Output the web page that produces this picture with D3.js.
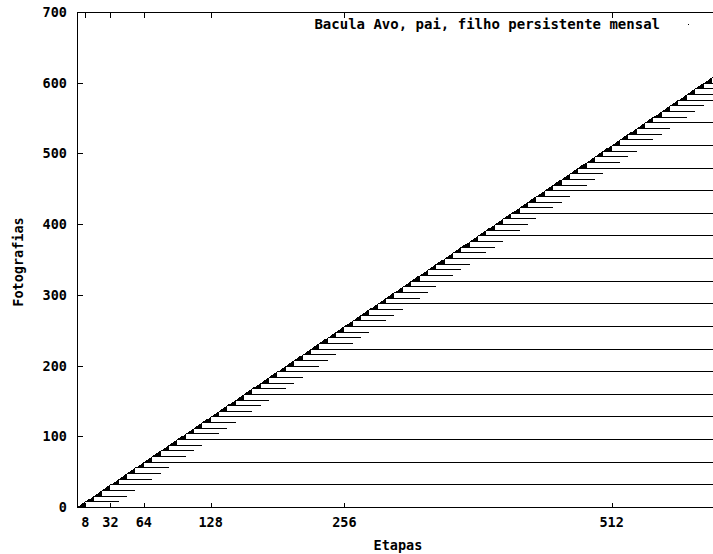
<!DOCTYPE html>
<html>
<head>
<meta charset="utf-8">
<script src="https://cdn.jsdelivr.net/npm/d3@7/dist/d3.min.js"></script>
<style>
  body { margin: 0; background: #fff; }
  text { font-family: "DejaVu Sans Mono", monospace; font-weight: bold; fill: #000; }
</style>
</head>
<body>
<div id="chart"></div>
<script>
// ticks
var xTicks = [8, 32, 64, 128, 256, 512];
var yTicks = [0, 100, 200, 300, 400, 500, 600, 700];

// monthly photos: kept forever
var mensais = [32, 64, 96, 128, 160, 192, 224, 256, 288, 320, 352, 384, 416, 448, 480, 512, 544, 576, 608];

// weekly photos: [photo, stage where it is discarded]
var semanais = [
  [8, 40], [16, 48], [24, 56], [40, 72], [48, 80], [56, 88], [72, 104], [80, 112], [88, 120],
  [104, 136], [112, 144], [120, 152], [136, 168], [144, 176], [152, 184], [168, 200], [176, 208],
  [184, 216], [200, 232], [208, 240], [216, 248], [232, 264], [240, 272], [248, 280], [264, 296],
  [272, 304], [280, 312], [296, 328], [304, 336], [312, 344], [328, 360], [336, 368], [344, 376],
  [360, 392], [368, 400], [376, 408], [392, 424], [400, 432], [408, 440], [424, 456], [432, 464],
  [440, 472], [456, 488], [464, 496], [472, 504], [488, 520], [496, 528], [504, 536], [520, 552],
  [528, 560], [536, 568], [552, 584], [560, 592], [568, 600], [584, 616], [592, 624], [600, 632]
];

// daily photos: [first photo, last photo, stage where the batch is discarded]
var diarios = [
  [1, 7, 8], [9, 15, 16], [17, 23, 24], [25, 31, 32], [33, 39, 40], [41, 47, 48], [49, 55, 56],
  [57, 63, 64], [65, 71, 72], [73, 79, 80], [81, 87, 88], [89, 95, 96], [97, 103, 104],
  [105, 111, 112], [113, 119, 120], [121, 127, 128], [129, 135, 136], [137, 143, 144],
  [145, 151, 152], [153, 159, 160], [161, 167, 168], [169, 175, 176], [177, 183, 184],
  [185, 191, 192], [193, 199, 200], [201, 207, 208], [209, 215, 216], [217, 223, 224],
  [225, 231, 232], [233, 239, 240], [241, 247, 248], [249, 255, 256], [257, 263, 264],
  [265, 271, 272], [273, 279, 280], [281, 287, 288], [289, 295, 296], [297, 303, 304],
  [305, 311, 312], [313, 319, 320], [321, 327, 328], [329, 335, 336], [337, 343, 344],
  [345, 351, 352], [353, 359, 360], [361, 367, 368], [369, 375, 376], [377, 383, 384],
  [385, 391, 392], [393, 399, 400], [401, 407, 408], [409, 415, 416], [417, 423, 424],
  [425, 431, 432], [433, 439, 440], [441, 447, 448], [449, 455, 456], [457, 463, 464],
  [465, 471, 472], [473, 479, 480], [481, 487, 488], [489, 495, 496], [497, 503, 504],
  [505, 511, 512], [513, 519, 520], [521, 527, 528], [529, 535, 536], [537, 543, 544],
  [545, 551, 552], [553, 559, 560], [561, 567, 568], [569, 575, 576], [577, 583, 584],
  [585, 591, 592], [593, 599, 600], [601, 607, 608], [609, 615, 616]
];

var titulo = 'Bacula Avo, pai, filho persistente mensal';

var width = 713, height = 554;
var xMax = 610, yMax = 700;

var x = d3.scaleLinear().domain([0, xMax]).range([77, 714]);
var y = d3.scaleLinear().domain([0, yMax]).range([507, 12]);
var px = function(v) { return Math.round(v) + 0.5; };

var svg = d3.select('#chart').append('svg')
    .attr('width', width)
    .attr('height', height);

svg.append('clipPath').attr('id', 'plot')
  .append('rect')
    .attr('x', x(0)).attr('y', y(yMax))
    .attr('width', x(xMax) - x(0)).attr('height', y(0) - y(yMax));

var g = svg.append('g')
    .attr('clip-path', 'url(#plot)')
    .attr('stroke', '#000')
    .attr('stroke-width', 1)
    .attr('shape-rendering', 'crispEdges');

// daily photos, one line per photo -> small black triangles
diarios.forEach(function(d) {
  for (var p = d[0]; p <= d[1]; p++) {
    g.append('line')
      .attr('x1', x(p)).attr('x2', x(d[2]))
      .attr('y1', px(y(p))).attr('y2', px(y(p)));
  }
});

// weekly photos
g.selectAll('line.semanal')
  .data(semanais)
  .enter().append('line')
    .attr('class', 'semanal')
    .attr('x1', function(d) { return x(d[0]); })
    .attr('x2', function(d) { return x(d[1]); })
    .attr('y1', function(d) { return px(y(d[0])); })
    .attr('y2', function(d) { return px(y(d[0])); });

// monthly photos, persistent
g.selectAll('line.mensal')
  .data(mensais)
  .enter().append('line')
    .attr('class', 'mensal')
    .attr('x1', function(d) { return x(d); })
    .attr('x2', x(xMax) + 5)
    .attr('y1', function(d) { return px(y(d)); })
    .attr('y2', function(d) { return px(y(d)); });

// border (right side is outside the picture)
var border = svg.append('g')
    .attr('stroke', '#000')
    .attr('fill', 'none')
    .attr('shape-rendering', 'crispEdges');
border.append('path')
    .attr('d', 'M' + (x(xMax) + 5) + ',' + px(y(yMax)) + 'H' + px(x(0)) + 'V' + px(y(0)) + 'H' + (x(xMax) + 5));

// x ticks, bottom and mirrored on top
xTicks.forEach(function(t) {
  border.append('line')
    .attr('x1', px(x(t))).attr('x2', px(x(t)))
    .attr('y1', px(y(0))).attr('y2', px(y(0)) - 5);
  border.append('line')
    .attr('x1', px(x(t))).attr('x2', px(x(t)))
    .attr('y1', px(y(yMax))).attr('y2', px(y(yMax)) + 5);
});
yTicks.forEach(function(t) {
  border.append('line')
    .attr('x1', px(x(0))).attr('x2', px(x(0)) + 5)
    .attr('y1', px(y(t))).attr('y2', px(y(t)));
});

// tick labels
svg.append('g').selectAll('text')
  .data(xTicks)
  .enter().append('text')
    .attr('x', function(d) { return x(d); })
    .attr('y', 527)
    .attr('text-anchor', 'middle')
    .style('font-size', '13.5px')
    .text(function(d) { return d; });

svg.append('g').selectAll('text')
  .data(yTicks)
  .enter().append('text')
    .attr('x', 67)
    .attr('y', function(d) { return y(d) + 5; })
    .attr('text-anchor', 'end')
    .style('font-size', '13.5px')
    .text(function(d) { return d; });

// axis titles
svg.append('text')
    .attr('x', 398)
    .attr('y', 550)
    .attr('text-anchor', 'middle')
    .style('font-size', '13.5px')
    .text('Etapas');

svg.append('text')
    .attr('transform', 'translate(23,262) rotate(-90)')
    .attr('text-anchor', 'middle')
    .style('font-size', '13.5px')
    .text('Fotografias');

// key
svg.append('text')
    .attr('x', 660)
    .attr('y', 29)
    .attr('text-anchor', 'end')
    .style('font-size', '14px')
    .text(titulo);
svg.append('rect')
    .attr('x', 688).attr('y', 24)
    .attr('width', 1).attr('height', 1)
    .attr('fill', '#000');
</script>
</body>
</html>
